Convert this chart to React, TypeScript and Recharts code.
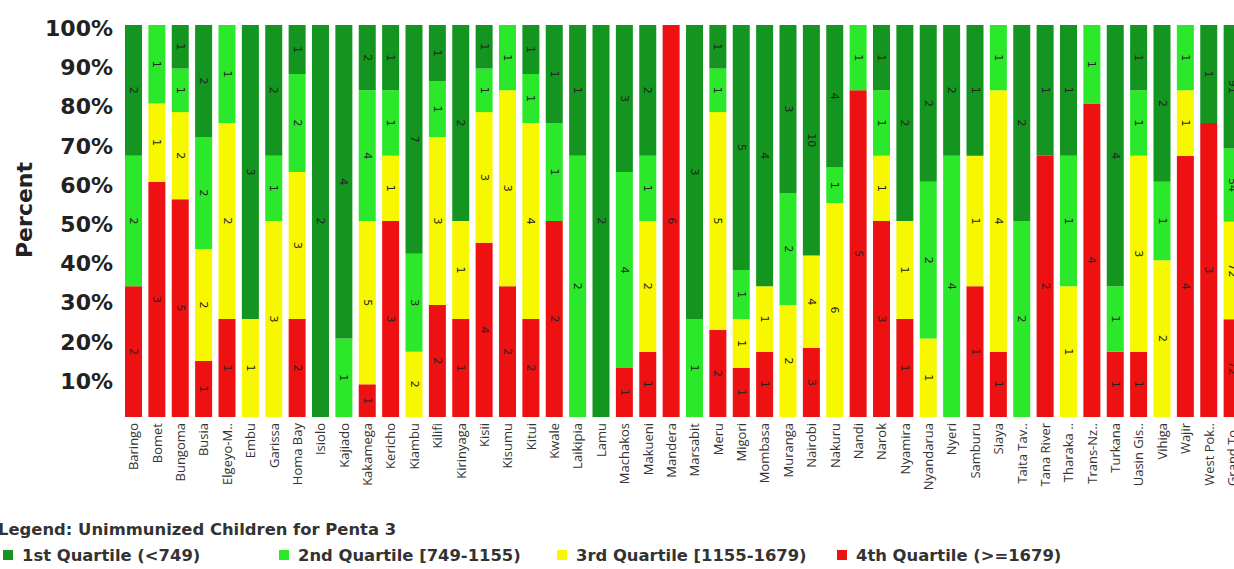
import React from 'react'
import { BarChart, Bar, XAxis, YAxis, LabelList } from 'recharts'

const counties = [
  'Baringo', 'Bomet', 'Bungoma', 'Busia', 'Elgeyo-M..', 'Embu', 'Garissa', 'Homa Bay',
  'Isiolo', 'Kajiado', 'Kakamega', 'Kericho', 'Kiambu', 'Kilifi', 'Kirinyaga', 'Kisii',
  'Kisumu', 'Kitui', 'Kwale', 'Laikipia', 'Lamu', 'Machakos', 'Makueni', 'Mandera',
  'Marsabit', 'Meru', 'Migori', 'Mombasa', 'Muranga', 'Nairobi', 'Nakuru', 'Nandi',
  'Narok', 'Nyamira', 'Nyandarua', 'Nyeri', 'Samburu', 'Siaya', 'Taita Tav..', 'Tana River',
  'Tharaka ..', 'Trans-Nz..', 'Turkana', 'Uasin Gis..', 'Vihiga', 'Wajir', 'West Pok..', 'Grand To..',
]

// counts of sub-counties per quartile
const q4 = [2, 3, 5, 1, 1, 0, 0, 2, 0, 0, 1, 3, 0, 2, 1, 4, 2, 2, 2, 0, 0, 1, 1, 6, 0, 2, 1, 1, 0, 3, 0, 5, 3, 1, 0, 0, 1, 1, 0, 2, 0, 4, 1, 1, 0, 4, 3, 72]
const q3 = [0, 1, 2, 2, 2, 1, 3, 3, 0, 0, 5, 1, 2, 3, 1, 3, 3, 4, 0, 0, 0, 0, 2, 0, 0, 5, 1, 1, 2, 4, 6, 0, 1, 1, 1, 0, 1, 4, 0, 0, 1, 0, 0, 3, 2, 1, 0, 72]
const q2 = [2, 1, 1, 2, 1, 0, 1, 2, 0, 1, 4, 1, 3, 1, 0, 1, 1, 1, 1, 2, 0, 4, 1, 0, 1, 1, 1, 0, 2, 0, 1, 1, 1, 0, 2, 4, 0, 1, 2, 0, 1, 1, 1, 1, 1, 1, 0, 54]
const q1 = [2, 0, 1, 2, 0, 3, 2, 1, 2, 4, 2, 1, 7, 1, 2, 1, 0, 1, 1, 1, 2, 3, 2, 0, 3, 1, 5, 4, 3, 10, 4, 0, 1, 2, 2, 2, 1, 0, 2, 1, 1, 0, 4, 1, 2, 0, 1, 91]

const yTicks = [0.1, 0.2, 0.3, 0.4, 0.5, 0.6, 0.7, 0.8, 0.9, 1]

const legendItems = [
  { label: '1st Quartile (<749)', color: '#13951f', sq: 3 },
  { label: '2nd Quartile [749-1155)', color: '#2be82b', sq: 279 },
  { label: '3rd Quartile [1155-1679)', color: '#f7f700', sq: 557 },
  { label: '4th Quartile (>=1679)', color: '#ee1111', sq: 837 },
]

const data = counties.map((name, i) => ({ name, q1: q1[i], q2: q2[i], q3: q3[i], q4: q4[i] }))

const SegLabel = (props: any) => {
  const { x, y, width, height, value } = props
  if (!value) return null
  const cx = x + width / 2
  const cy = y + height / 2
  return (
    <text
      x={cx}
      y={cy}
      transform={`rotate(90 ${cx} ${cy})`}
      textAnchor="middle"
      dominantBaseline="central"
      fontSize={11}
      fontFamily="DejaVu Sans"
      fill="#222"
    >
      {value}
    </text>
  )
}

const XTick = (props: any) => {
  const { x, y, payload } = props
  return (
    <text
      transform={`translate(${x},${y}) rotate(-90)`}
      textAnchor="end"
      dy="0.35em"
      fontSize={13}
      fontFamily="Open Sans"
      fill="#333"
    >
      {payload.value}
    </text>
  )
}

const YTick = (props: any) => {
  const { x, y, payload } = props
  return (
    <text x={x} y={y + 11} textAnchor="end" fontSize={22} fontWeight={700} fontFamily="DejaVu Sans" fill="#222">
      {Math.round(payload.value * 100)}%
    </text>
  )
}

export default function App() {
  return (
    <div style={{ position: 'absolute', left: 0, top: 0, width: 1234, height: 569, overflow: 'hidden', background: '#fff' }}>
      <BarChart
        width={1260}
        height={569}
        data={data}
        stackOffset="expand"
        margin={{ top: 25, right: 16, bottom: 0, left: 0 }}
      >
        <XAxis dataKey="name" interval={0} height={152} tickLine={false} axisLine={false} tickMargin={0} tick={<XTick />} />
        <YAxis
          width={122}
          domain={[0, 1]}
          ticks={yTicks}
          tickLine={false}
          axisLine={false}
          tickMargin={3}
          tick={<YTick />}
          label={{
            content: () => (
              <text transform="translate(32,210) rotate(-90)" textAnchor="middle" fontSize={22} fontWeight={700} fontFamily="DejaVu Sans" fill="#222">
                Percent
              </text>
            ),
          }}
        />
        <Bar dataKey="q4" stackId="a" fill="#ee1111" barSize={17} isAnimationActive={false}>
          <LabelList dataKey="q4" content={<SegLabel />} />
        </Bar>
        <Bar dataKey="q3" stackId="a" fill="#f7f700" barSize={17} isAnimationActive={false}>
          <LabelList dataKey="q3" content={<SegLabel />} />
        </Bar>
        <Bar dataKey="q2" stackId="a" fill="#2be82b" barSize={17} isAnimationActive={false}>
          <LabelList dataKey="q2" content={<SegLabel />} />
        </Bar>
        <Bar dataKey="q1" stackId="a" fill="#13951f" barSize={17} isAnimationActive={false}>
          <LabelList dataKey="q1" content={<SegLabel />} />
        </Bar>
      </BarChart>
      <svg width={1234} height={60} style={{ position: 'absolute', left: 0, top: 509 }}>
        <text x={-2} y={26} fontSize={16.4} fontWeight={700} fontFamily="DejaVu Sans" fill="#333">
          Legend: Unimmunized Children for Penta 3
        </text>
        {legendItems.map((it) => (
          <g key={it.label}>
            <rect x={it.sq} y={41} width={10} height={10} fill={it.color} />
            <text x={it.sq + 19} y={52} fontSize={16.4} fontWeight={700} fontFamily="DejaVu Sans" fill="#333">
              {it.label}
            </text>
          </g>
        ))}
      </svg>
    </div>
  )
}
